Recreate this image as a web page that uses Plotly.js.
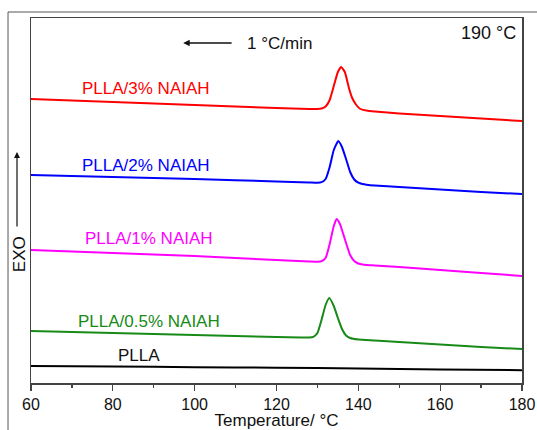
<!DOCTYPE html>
<html>
<head>
<meta charset="utf-8">
<script src="https://cdn.plot.ly/plotly-3.0.1.min.js"></script>
<style>html,body{margin:0;padding:0;background:#fff;}#chart{width:537px;height:430px;}</style>
</head>
<body>
<div id="chart"></div>
<script>
// Temperature (°C) and exotherm signal (arbitrary units, offset stacked)
var tRed = [60, 80, 100, 120, 128, 130, 131, 132, 133, 134, 135, 135.8, 136.7, 137.7, 138.5, 139.5, 140.5, 142, 144, 150, 160, 170, 180];
var yRed = [284, 281, 278, 275, 274, 274, 274.5, 276.5, 283, 297, 311, 316, 311, 295, 285, 278, 274, 272.5, 271.5, 269.5, 267, 264.5, 262];

var tBlue = [60, 80, 100, 120, 128, 130, 131, 132, 133, 134, 135.1, 136, 137, 138, 139, 140, 141, 142, 144, 150, 160, 170, 180];
var yBlue = [208, 206, 204, 201.5, 200.5, 200.2, 200.8, 204, 216, 233, 242, 236, 224, 211, 203.5, 200.3, 199, 198.3, 197.5, 196, 193.5, 191, 189];

var tMag = [60, 80, 100, 120, 128, 130, 131, 132, 133, 134, 134.7, 135.5, 136, 137, 138, 139, 140, 141, 142, 144, 150, 160, 170, 180];
var yMag = [133, 130, 127, 123, 121.5, 121.2, 121.8, 125, 139, 157, 164, 159, 153, 140, 128, 122, 119.5, 118.5, 118, 117.5, 116, 113, 110, 107];

var tGreen = [60, 80, 100, 120, 126, 128, 129, 130, 131, 132, 132.9, 134, 135, 136, 137, 138, 140, 144, 150, 160, 170, 180];
var yGreen = [52, 50, 48, 46, 45.6, 45.5, 46.2, 50, 63, 78, 85, 77, 65, 54, 47.5, 45, 43.5, 42.5, 41, 38.5, 36, 34];

var tBlack = [60, 80, 100, 120, 140, 160, 180];
var yBlack = [17, 16.5, 15.8, 15.3, 14.5, 13.6, 12.8];

var seriesNames = ["PLLA/3% NAIAH", "PLLA/2% NAIAH", "PLLA/1% NAIAH", "PLLA/0.5% NAIAH", "PLLA"];
var xTicks = [60, 80, 100, 120, 140, 160, 180];

var colors = ["#ff0000", "#0000ff", "#ff00ff", "#178a17", "#000000"];
var xs = [tRed, tBlue, tMag, tGreen, tBlack];
var ys = [yRed, yBlue, yMag, yGreen, yBlack];

var traces = xs.map(function (x, i) {
  return {
    x: x, y: ys[i], type: "scatter", mode: "lines", name: seriesNames[i],
    line: {color: colors[i], width: 2, shape: "spline", smoothing: 0.45},
    hoverinfo: "skip"
  };
});

var F = "Liberation Sans, Arial, sans-serif";
// label positions (temperature, signal)
var labelX = [88.1, 88.1, 88.9, 88.9, 86.5];
var labelY = [295, 218, 145, 62, 28];
var annotations = seriesNames.map(function (s, i) {
  return {x: labelX[i], y: labelY[i], xref: "x", yref: "y", text: s, showarrow: false,
    font: {family: F, size: 17, color: colors[i] === "#000000" ? "#111" : colors[i]}};
});
annotations.push({x: 112.3, y: 340, xref: "x", yref: "y", text: "1 °C/min", showarrow: false,
  xanchor: "left", font: {family: F, size: 17, color: "#111"}});
annotations.push({x: 97.2, y: 340, ax: 109.4, ay: 340, xref: "x", yref: "y", axref: "x", ayref: "y",
  text: "", showarrow: true, arrowhead: 2, arrowsize: 1, arrowwidth: 1.3, arrowcolor: "#111"});
annotations.push({x: 179, y: 350, xref: "x", yref: "y", text: "190 °C", showarrow: false,
  font: {family: F, size: 18, color: "#111"}, xanchor: "right"});
annotations.push({x: -0.0244, y: 0.353, xref: "paper", yref: "paper", text: "EXO", showarrow: false,
  xanchor: "center", yanchor: "middle",
  textangle: -90, font: {family: F, size: 17, color: "#111"}});
annotations.push({x: -0.0285, y: 0.633, ax: -0.0285, ay: 0.425, xref: "paper", yref: "paper",
  axref: "paper", ayref: "paper", text: "", showarrow: true, arrowhead: 2, arrowsize: 1,
  arrowwidth: 1.2, arrowcolor: "#111"});

var layout = {
  width: 537, height: 430,
  margin: {l: 31, r: 15, t: 18, b: 47},
  paper_bgcolor: "#ffffff", plot_bgcolor: "#ffffff",
  showlegend: false,
  xaxis: {
    range: [60, 180], tickvals: xTicks, ticktext: xTicks.map(String),
    ticks: "outside", ticklen: 6, tickwidth: 1.3, tickcolor: "#444",
    minor: {dtick: 10, ticks: "outside", ticklen: 3, tickwidth: 1.2, tickcolor: "#444"},
    showline: true, linecolor: "#444", linewidth: 1.5, mirror: true,
    showgrid: false, zeroline: false,
    tickfont: {family: F, size: 16, color: "#111"},
    title: {text: "Temperature/ °C", font: {family: F, size: 17, color: "#111"}, standoff: 2}
  },
  yaxis: {
    range: [0, 365], showticklabels: false, ticks: "",
    showline: true, linecolor: "#444", linewidth: 1.5, mirror: true,
    showgrid: false, zeroline: false
  },
  shapes: [{type: "rect", xref: "paper", yref: "paper", x0: -0.0468, x1: 1.1, y0: -0.2, y1: 1.0164,
    line: {color: "#555", width: 1}, fillcolor: "rgba(0,0,0,0)", layer: "below"}],
  annotations: annotations
};

Plotly.newPlot("chart", traces, layout, {displayModeBar: false, staticPlot: true});
</script>
</body>
</html>
